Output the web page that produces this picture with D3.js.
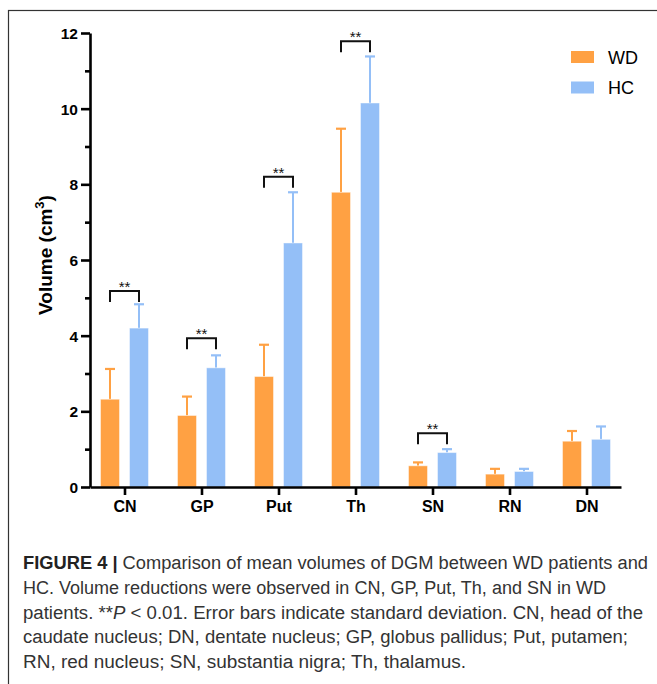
<!DOCTYPE html>
<html><head><meta charset="utf-8">
<script src="https://cdn.jsdelivr.net/npm/d3@7/dist/d3.min.js"></script>
<style>body{margin:0;background:#fff}svg{display:block}</style>
</head><body>
<svg id="c" width="657" height="684"></svg>
<script>
const categories = ["CN","GP","Put","Th","SN","RN","DN"];
const seriesNames = ["WD","HC"];
const wdMean = [2.32,1.89,2.92,7.79,0.56,0.34,1.21];
const wdSD   = [0.80,0.50,0.84,1.68,0.09,0.14,0.27];
const hcMean = [4.20,3.15,6.45,10.15,0.91,0.41,1.26];
const hcSD   = [0.63,0.33,1.34,1.23,0.09,0.07,0.34];
const sigCategories = ["CN","GP","Put","Th","SN"];
const sigLevels = [5.18,3.93,8.20,11.78,1.42];
const yMajorTicks = [0,2,4,6,8,10,12];
const yMinorTicks = [1,3,5,7,9,11];
const colors = {WD:"#FFA143", HC:"#94BFF7"};
const captionLines = [
  [{t:"FIGURE 4 | ",b:1},{t:"Comparison of mean volumes of DGM between WD patients and"}],
  [{t:"HC. Volume reductions were observed in CN, GP, Put, Th, and SN in WD"}],
  [{t:"patients. **"},{t:"P",i:1},{t:" < 0.01. Error bars indicate standard deviation. CN, head of the"}],
  [{t:"caudate nucleus; DN, dentate nucleus; GP, globus pallidus; Put, putamen;"}],
  [{t:"RN, red nucleus; SN, substantia nigra; Th, thalamus."}]
];
const captionWidths = [625,583,620,605,443];

const svg = d3.select("#c");
svg.append("rect").attr("x",8.5).attr("y",10.5).attr("width",700).attr("height",720)
  .attr("fill","none").attr("stroke","#333").attr("stroke-width",1.2);

const x = d3.scalePoint().domain(categories).range([90,621]).padding(0.448);
const y = d3.scaleLinear().domain([0,12]).range([487,33]);
const off = 14.5, bw = 19, capW = 10;

const data = [];
categories.forEach((c,i)=>{
  data.push({c, s:"WD", m:wdMean[i], sd:wdSD[i], dx:-off});
  data.push({c, s:"HC", m:hcMean[i], sd:hcSD[i], dx:off});
});

const g = svg.append("g");
g.selectAll(".eb").data(data).join("line")
  .attr("x1",d=>x(d.c)+d.dx).attr("x2",d=>x(d.c)+d.dx)
  .attr("y1",d=>y(d.m)).attr("y2",d=>y(d.m+d.sd))
  .attr("stroke",d=>colors[d.s]).attr("stroke-width",2);
g.selectAll(".cap").data(data).join("line")
  .attr("x1",d=>x(d.c)+d.dx-capW/2).attr("x2",d=>x(d.c)+d.dx+capW/2)
  .attr("y1",d=>y(d.m+d.sd)).attr("y2",d=>y(d.m+d.sd))
  .attr("stroke",d=>colors[d.s]).attr("stroke-width",2.2);
g.selectAll(".bar").data(data).join("rect")
  .attr("x",d=>x(d.c)+d.dx-bw/2).attr("width",bw)
  .attr("y",d=>y(d.m)).attr("height",d=>y(0)-y(d.m))
  .attr("fill",d=>colors[d.s]).attr("stroke","rgba(255,255,255,0.45)").attr("stroke-width",1);

sigCategories.forEach((c,i)=>{
  const x1 = x(c)-off, x2 = x(c)+off, yt = y(sigLevels[i]);
  svg.append("path").attr("d",`M${x1},${yt+11}V${yt}H${x2}V${yt+11}`)
    .attr("fill","none").attr("stroke","#111").attr("stroke-width",2);
  svg.append("text").attr("x",(x1+x2)/2).attr("y",yt+1).attr("text-anchor","middle")
    .attr("font-family","Liberation Sans, Arial, sans-serif").attr("font-size",15).attr("fill","#111").text("**");
});

const yAx = svg.append("g").attr("transform","translate(90,0)")
  .call(d3.axisLeft(y).tickValues(yMajorTicks).tickSize(9).tickSizeOuter(0).tickPadding(3));
svg.append("g").attr("transform","translate(90,0)")
  .call(d3.axisLeft(y).tickValues(yMinorTicks).tickSize(5).tickSizeOuter(0).tickFormat(""))
  .select(".domain").remove();
const xAx = svg.append("g").attr("transform","translate(0,487)")
  .call(d3.axisBottom(x).tickSize(8).tickSizeOuter(0).tickPadding(6));
svg.selectAll(".domain, .tick line").attr("stroke","#000").attr("stroke-width",2.6);
svg.selectAll(".tick text").attr("font-family","Liberation Sans, Arial, sans-serif")
  .attr("font-weight","bold").attr("fill","#000");
yAx.selectAll(".tick text").attr("font-size",15.5).attr("dy","0.36em");
xAx.selectAll(".tick text").attr("font-size",16);

const yt = svg.append("text").attr("transform","translate(52,255) rotate(-90)")
  .attr("text-anchor","middle").attr("font-family","Liberation Sans, Arial, sans-serif")
  .attr("font-size",19).attr("font-weight","bold").attr("fill","#000");
yt.append("tspan").text("Volume (cm");
yt.append("tspan").attr("font-size",13).attr("dy",-8).text("3");
yt.append("tspan").attr("dy",8).text(")");

seriesNames.forEach((s,i)=>{
  const ly = 51 + i*30.5;
  svg.append("rect").attr("x",571).attr("y",ly).attr("width",23).attr("height",12).attr("fill",colors[s]);
  svg.append("text").attr("x",608).attr("y",ly+12.5).attr("font-family","Liberation Sans, Arial, sans-serif")
    .attr("font-size",18).attr("fill","#000").text(s);
});

captionLines.forEach((parts,i)=>{
  const t = svg.append("text").attr("x",23).attr("y",569+i*24.8)
    .attr("font-family","Liberation Sans Narrow, Liberation Sans, Arial, sans-serif").attr("font-size",18)
    .attr("fill","#333").attr("textLength",captionWidths[i]).attr("lengthAdjust","spacingAndGlyphs");
  parts.forEach(p=>{
    const ts = t.append("tspan").text(p.t);
    if(p.b) ts.attr("font-weight","bold").attr("fill","#222");
    if(p.i) ts.attr("font-style","italic");
  });
});
</script>
</body></html>
